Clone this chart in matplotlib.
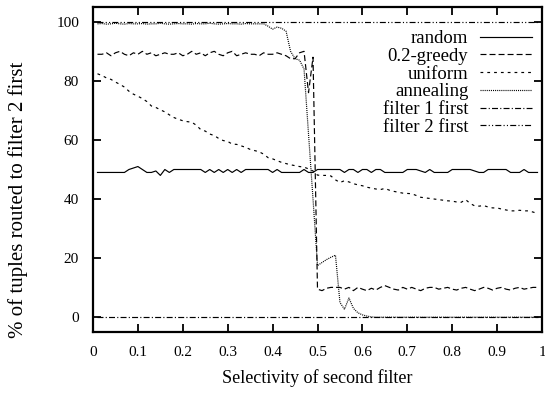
import matplotlib
matplotlib.use("Agg")
import matplotlib.pyplot as plt
import numpy as np

plt.rcParams['font.family'] = ['Liberation Serif', 'DejaVu Serif']
plt.rcParams['lines.scale_dashes'] = False

# selectivity of second filter: 0.01 .. 0.99
x = [i / 100 for i in range(1, 100)]

random_vals = [
    49, 49, 49, 49, 49, 49, 49, 50, 50.5, 51,
    50, 49, 49, 49.5, 48, 50, 49, 50, 50, 50,
    50, 50, 50, 50, 49, 50, 49, 50, 49, 50,
    49, 50, 49, 50, 50, 50, 50, 50, 50, 49,
    50, 49, 49, 49, 49, 49, 50, 49, 49, 50,
    50, 50, 50, 50, 50, 49, 50, 50, 49, 50,
    50, 49, 50, 50, 49, 49, 49, 49, 49, 50,
    50, 50, 49.5, 49, 50, 49, 49, 49, 49, 50,
    50, 50, 50, 50, 49.5, 49, 49, 50, 50, 50,
    50, 50, 49, 49, 49, 50, 49, 49, 49,
]

greedy_vals = [
    89, 89, 89.5, 88.5, 89.5, 90, 89, 88.5, 89.5, 89,
    90, 89, 89.5, 88.5, 89, 89.5, 89, 89, 89.5, 88.5,
    89, 90, 89, 89.5, 88.5, 89.5, 90, 89, 88.5, 89.5,
    90, 88.5, 89, 89.5, 89, 89, 88.5, 89.5, 89, 89,
    89.5, 89, 88.5, 87.5, 87.5, 89.5, 90, 76, 88, 9.5,
    9.0, 9.8, 10.1, 10.1, 10.1, 9.5, 10.1, 9.0, 10.1, 9.5,
    9.0, 9.8, 9.2, 10.1, 10.7, 10.1, 9.5, 9.2, 10.1, 9.5,
    10.1, 9.5, 9.0, 9.8, 10.1, 10.1, 9.5, 9.8, 10.1, 9.5,
    9.2, 9.8, 10.1, 9.5, 9.0, 9.5, 10.1, 9.8, 9.2, 9.8,
    10.1, 9.5, 9.2, 9.8, 10.1, 9.5, 9.8, 10.1, 10.1,
]

uniform_vals = [
    82.4, 81.8, 81.0, 80.5, 79.6, 78.8, 77.9, 76.5, 75.5, 74.8,
    74.0, 73.0, 71.5, 71.0, 70.2, 69.5, 68.5, 67.6, 67.0, 66.5,
    66.2, 66.0, 65.0, 63.5, 63.0, 62.0, 61.5, 60.5, 59.8, 59.5,
    58.6, 58.5, 58.0, 57.5, 56.8, 56.4, 56.0, 55.2, 54.0, 53.6,
    53.0, 52.4, 52.0, 51.6, 51.3, 51.0, 50.8, 50.2, 49.5, 48.1,
    48.0, 48.0, 47.8, 46.5, 45.6, 46.2, 45.8, 45.2, 44.8, 44.5,
    44.0, 43.7, 43.4, 43.2, 43.6, 43.0, 42.6, 42.3, 42.0, 41.9,
    41.8, 41.2, 40.6, 40.4, 40.2, 40.0, 39.8, 39.6, 39.4, 39.3,
    39.0, 38.9, 39.8, 38.5, 37.7, 37.6, 37.8, 37.3, 37.0, 37.0,
    36.6, 36.3, 36.0, 36.0, 36.2, 36.0, 36.0, 35.6, 35.1,
]

annealing_vals = [
    99.3, 99.4, 99.2, 99.3, 99.5, 99.3, 99.2, 99.4, 99.3, 99.3,
    99.4, 99.2, 99.3, 99.3, 99.5, 99.3, 99.2, 99.3, 99.4, 99.3,
    99.3, 99.2, 99.4, 99.3, 99.3, 99.5, 99.3, 99.2, 99.3, 99.4,
    99.3, 99.3, 99.2, 99.4, 99.3, 99.3, 99.3, 99.3, 98.5, 97.5,
    98.2, 97.8, 96.8, 90.0, 87.5, 87.0, 84.0, 62.0, 40.0, 17.5,
    18.5, 19.5, 20.3, 21.0, 5.0, 2.7, 6.5, 3.0, 1.5, 0.8,
    0.4, 0.1, 0, 0, 0, 0, 0, 0, 0, 0,
    0, 0, 0, 0, 0, 0, 0, 0, 0, 0,
    0, 0, 0, 0, 0, 0, 0, 0, 0, 0,
    0, 0, 0, 0, 0, 0, 0, 0, 0,
]

filter1_vals = [0] * 99
filter2_vals = [100] * 99

labels = ["random", "0.2-greedy", "uniform", "annealing", "filter 1 first", "filter 2 first"]
xticks = [0, 0.1, 0.2, 0.3, 0.4, 0.5, 0.6, 0.7, 0.8, 0.9, 1]
xticklabels = ["0", "0.1", "0.2", "0.3", "0.4", "0.5", "0.6", "0.7", "0.8", "0.9", "1"]
yticks = [0, 20, 40, 60, 80, 100]

W, H = 545, 394
fig = plt.figure(figsize=(W / 100, H / 100), dpi=100)
ax = fig.add_axes([93 / W, 1 - 332 / H, (542 - 93) / W, (332 - 7) / H])

lw = 0.85
styles = [
    dict(linestyle='-'),
    dict(linestyle=(0, (4.3, 2.2))),
    dict(linestyle=(0, (2.0, 2.9))),
    dict(linestyle=(0, (0.75, 0.75))),
    dict(linestyle=(0, (4.3, 1.6, 0.8, 1.6))),
    dict(linestyle=(0, (4.3, 1.6, 0.8, 1.6, 0.8, 1.6))),
]
series = [random_vals, greedy_vals, uniform_vals, annealing_vals, filter1_vals, filter2_vals]
for vals, lab, st in zip(series, labels, styles):
    ax.plot(x, vals, color='black', linewidth=lw, label=lab, **st)

ax.set_xlim(0, 1)
ax.set_ylim(-5, 105)
ax.set_xticks(xticks)
ax.set_xticklabels(xticklabels)
ax.set_yticks(yticks)
ax.tick_params(direction='in', top=True, right=True, length=6, width=1.3,
               labelsize=11)
ax.tick_params(axis='y', pad=10)
ax.tick_params(axis='x', pad=10)
for s in ax.spines.values():
    s.set_linewidth(1.6)

fig.text((93 + 542) / 2 / W, 1 - 378 / H, "Selectivity of second filter",
         ha='center', va='center', fontsize=13)
fig.text(18 / W, 1 - 200 / H, "% of tuples routed to filter 2 first",
         ha='center', va='center', rotation=90, fontsize=15)

leg = ax.legend(loc='upper right', bbox_to_anchor=(532 / W, 1 - 30 / H),
                bbox_transform=fig.transFigure, frameon=False, markerfirst=False,
                fontsize=13.5, handlelength=2.8, handletextpad=0.6,
                labelspacing=0.035, borderpad=0, borderaxespad=0)

fig.savefig("out.png", dpi=100)
